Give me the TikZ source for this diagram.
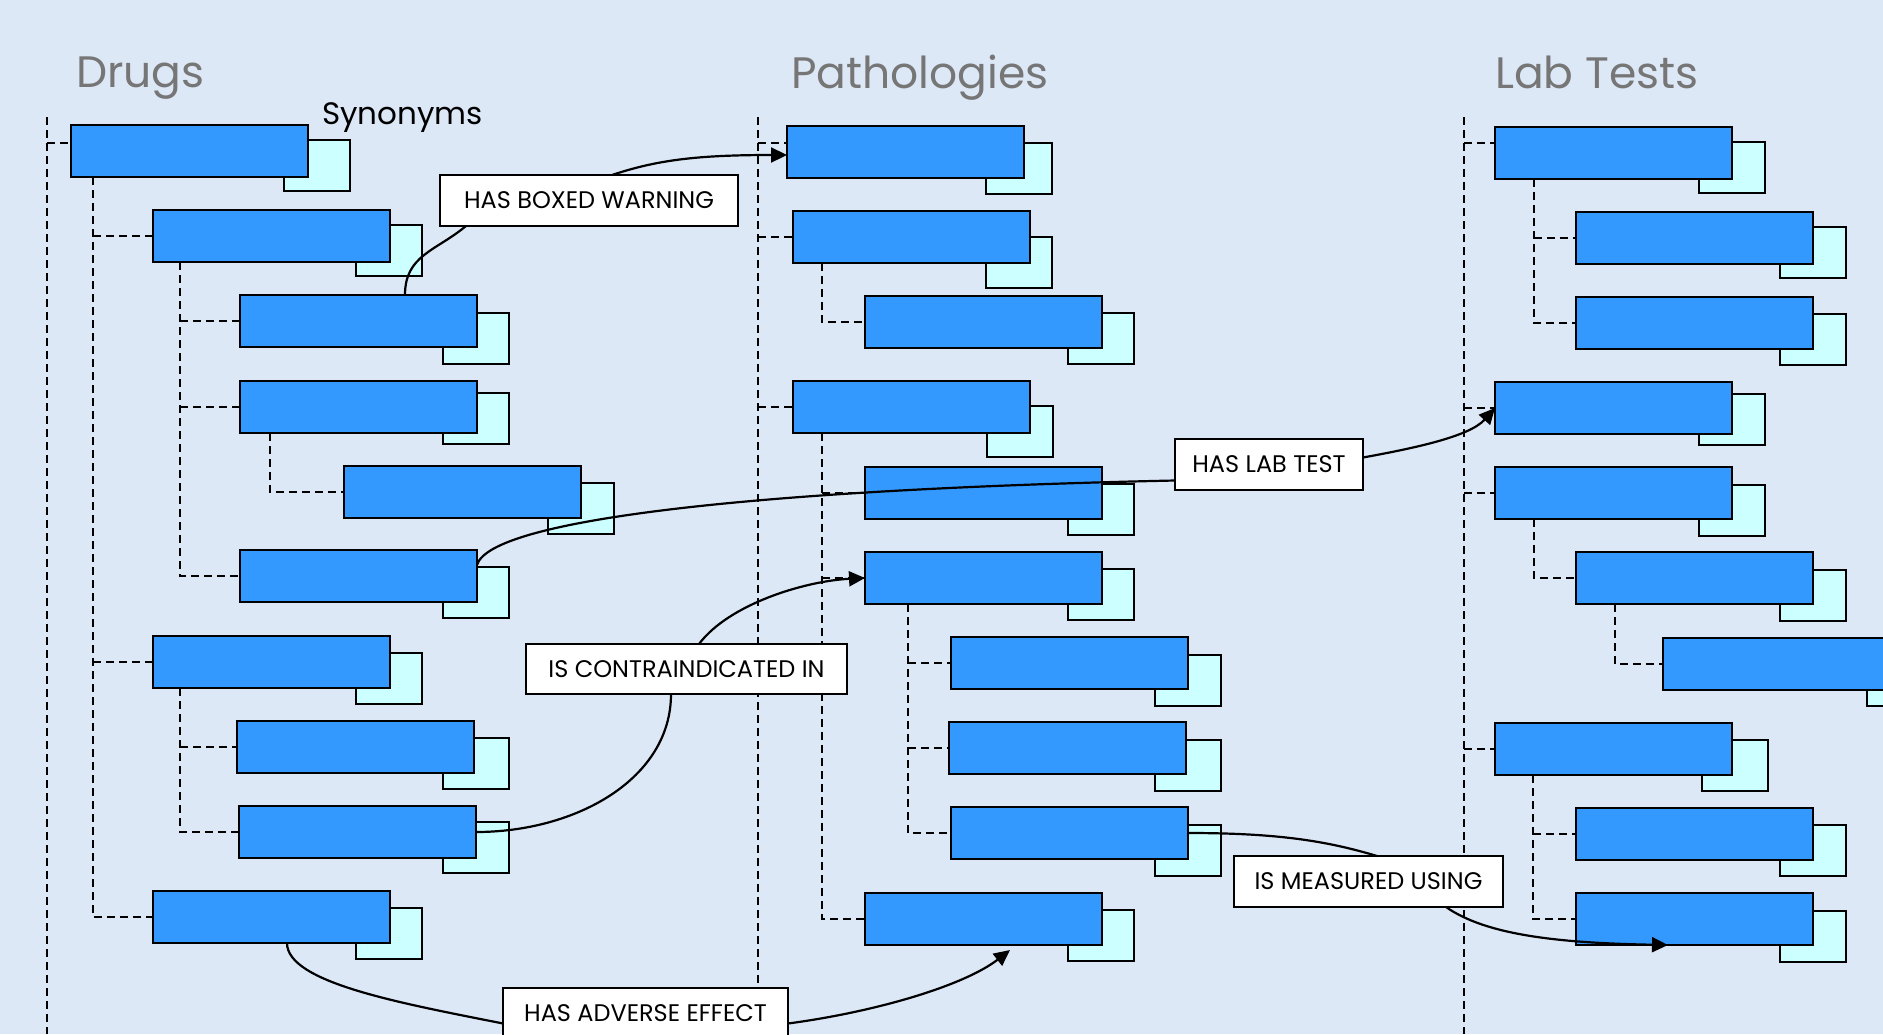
\documentclass[tikz,border=0pt]{standalone}
\usepackage{fontspec}
\setmainfont{Poppins}
\usetikzlibrary{arrows.meta}
\definecolor{bgc}{RGB}{221,232,247}
\definecolor{boxc}{RGB}{51,153,255}
\definecolor{shc}{RGB}{204,255,255}
\definecolor{ttl}{RGB}{118,118,118}
\pgfdeclarelayer{bg}
\pgfdeclarelayer{tree}
\pgfsetlayers{bg,tree,main}
\tikzset{
 mainbox/.style={draw=black, line width=2.2pt, fill=boxc, minimum width=237pt, minimum height=52pt, inner sep=0pt, outer sep=0pt, anchor=north west},
 synbox/.style={draw=black, line width=2.2pt, fill=shc, minimum width=66pt, minimum height=51pt, inner sep=0pt, outer sep=0pt, anchor=north west},
 treeline/.style={draw=black, line width=2pt, dash pattern=on 8pt off 5pt},
 rel/.style={draw=black, line width=2.2pt},
 relarrow/.style={rel, -{Triangle[length=16pt,width=15pt]}},
 lbl/.style={draw=black, line width=2.2pt, fill=white, inner sep=0pt, outer sep=0pt, anchor=north west, font=\fontsize{24}{26}\selectfont},
 coltitle/.style={text=ttl, font=\fontsize{44}{50}\selectfont, anchor=base west, inner sep=0pt},
}
\newcommand\ourbox[5]{%
 \node[synbox] (#1s) at (#4,#5) {};
 \node[mainbox] (#1) at (#2,#3) {};
}
\begin{document}
\begin{tikzpicture}[x=1pt,y=-1pt]
\useasboundingbox (0,0) rectangle (1883,1034);
\begin{pgfonlayer}{bg}
\fill[bgc] (0,0) rectangle (1883,1034);
\end{pgfonlayer}

% titles
\node[coltitle] (tdrugs) at (76,87) {Drugs};
\node[coltitle] (tpath) at (791,88) {Pathologies};
\node[coltitle] (tlab) at (1495,88) {Lab Tests};
\node[anchor=base west, inner sep=0pt, font=\fontsize{31}{36}\selectfont] (syn) at (322,124) {Synonyms};

% boxes
\ourbox{D1}{71}{125}{284}{140}
\ourbox{D2}{153}{210}{356}{225}
\ourbox{D3}{240}{295}{443}{313}
\ourbox{D4}{240}{381}{443}{393}
\ourbox{D5}{344}{466}{548}{483}
\ourbox{D6}{240}{550}{443}{567}
\ourbox{D7}{153}{636}{356}{653}
\ourbox{D8}{237}{721}{443}{738}
\ourbox{D9}{239}{806}{443}{822}
\ourbox{D10}{153}{891}{356}{908}

\ourbox{P1}{787}{126}{986}{143}
\ourbox{P2}{793}{211}{986}{237}
\ourbox{P3}{865}{296}{1068}{313}
\ourbox{P4}{793}{381}{987}{406}
\ourbox{P5}{865}{467}{1068}{484}
\ourbox{P6}{865}{552}{1068}{569}
\ourbox{P7}{951}{637}{1155}{655}
\ourbox{P8}{949}{722}{1155}{740}
\ourbox{P9}{951}{807}{1155}{825}
\ourbox{P10}{865}{893}{1068}{910}

\ourbox{L1}{1495}{127}{1699}{142}
\ourbox{L2}{1576}{212}{1780}{227}
\ourbox{L3}{1576}{297}{1780}{314}
\ourbox{L4}{1495}{382}{1699}{394}
\ourbox{L5}{1495}{467}{1699}{485}
\ourbox{L6}{1576}{552}{1780}{570}
\ourbox{L7}{1663}{638}{1867}{655}
\ourbox{L8}{1495}{723}{1702}{740}
\ourbox{L9}{1576}{808}{1780}{825}
\ourbox{L10}{1576}{893}{1780}{911}

% tree lines
\coordinate (dtop) at (47,117);   \coordinate (dbot) at (47,1034);
\coordinate (ptop) at (758,117);  \coordinate (pbot) at (758,1034);
\coordinate (ltop) at (1464,117); \coordinate (lbot) at (1464,1034);
\begin{pgfonlayer}{tree}
\draw[treeline] (dtop) -- (dbot);
\draw[treeline] (ptop) -- (pbot);
\draw[treeline] (ltop) -- (lbot);
% drugs
\draw[treeline] ([yshift=8pt]D1.west -| dtop) -- ([yshift=8pt]D1.west);
\draw[treeline] ([xshift=22pt]D1.south west) |- (D10.west);
\draw[treeline] ([xshift=22pt]D1.south west |- D2.west) -- (D2.west);
\draw[treeline] ([xshift=22pt]D1.south west |- D7.west) -- (D7.west);
\draw[treeline] ([xshift=27pt]D2.south west) |- (D6.west);
\draw[treeline] ([xshift=27pt]D2.south west |- D3.west) -- (D3.west);
\draw[treeline] ([xshift=27pt]D2.south west |- D4.west) -- (D4.west);
\draw[treeline] ([xshift=30pt]D4.south west) |- (D5.west);
\draw[treeline] ([xshift=27pt]D7.south west) |- (D9.west);
\draw[treeline] ([xshift=27pt]D7.south west |- D8.west) -- (D8.west);
% pathologies
\draw[treeline] ([yshift=9pt]P1.west -| ptop) -- ([yshift=9pt]P1.west);
\draw[treeline] (P2.west -| ptop) -- (P2.west);
\draw[treeline] (P4.west -| ptop) -- (P4.west);
\draw[treeline] ([xshift=29pt]P2.south west) |- (P3.west);
\draw[treeline] ([xshift=29pt]P4.south west) |- (P10.west);
\draw[treeline] ([xshift=29pt]P4.south west |- P5.west) -- (P5.west);
\draw[treeline] ([xshift=29pt]P4.south west |- P6.west) -- (P6.west);
\draw[treeline] ([xshift=43pt]P6.south west) |- (P9.west);
\draw[treeline] ([xshift=43pt]P6.south west |- P7.west) -- (P7.west);
\draw[treeline] ([xshift=43pt]P6.south west |- P8.west) -- (P8.west);
% lab tests
\draw[treeline] ([yshift=10pt]L1.west -| ltop) -- ([yshift=10pt]L1.west);
\draw[treeline] (L4.west -| ltop) -- (L4.west);
\draw[treeline] (L5.west -| ltop) -- (L5.west);
\draw[treeline] (L8.west -| ltop) -- (L8.west);
\draw[treeline] ([xshift=39pt]L1.south west) |- (L3.west);
\draw[treeline] ([xshift=39pt]L1.south west |- L2.west) -- (L2.west);
\draw[treeline] ([xshift=39pt]L5.south west) |- (L6.west);
\draw[treeline] ([xshift=39pt]L6.south west) |- (L7.west);
\draw[treeline] ([xshift=38pt]L8.south west) |- (L10.west);
\draw[treeline] ([xshift=38pt]L8.south west |- L9.west) -- (L9.west);
\end{pgfonlayer}

% relation labels
\node[lbl, minimum width=298pt, minimum height=51pt] (hbw) at (440,175) {HAS BOXED WARNING};
\node[lbl, minimum width=188pt, minimum height=51pt] (hlt) at (1175,439) {HAS LAB TEST};
\node[lbl, minimum width=321pt, minimum height=50pt] (ici) at (526,644) {IS CONTRAINDICATED IN};
\node[lbl, minimum width=269pt, minimum height=51pt] (imu) at (1234,856) {IS MEASURED USING};
\node[lbl, minimum width=285pt, minimum height=51pt] (hae) at (503,988) {HAS ADVERSE EFFECT};

% relations
\draw[rel] ([xshift=165pt]D3.north west) .. controls +(0,-40) and +(-30,25) .. ([xshift=26pt]hbw.south west);
\draw[relarrow] ([xshift=172pt]hbw.north west) .. controls +(45,-15) and +(-90,0) .. ([yshift=-3pt]P1.west);
\draw[rel] ([yshift=-15pt]D6.north east) .. controls +(13,-45) and +(-425,9) .. ([yshift=-16pt]hlt.west);
\draw[relarrow] ([yshift=7pt]hlt.east) .. controls +(55,-10) and +(-25,28) .. (L4.west);
\draw[rel] (D9.east) .. controls +(100,0) and +(0,85) .. ([xshift=145pt]ici.south west);
\draw[relarrow] ([xshift=173pt]ici.north west) .. controls +(30,-40) and +(-60,3) .. (P6.west);
\draw[rel] ([xshift=134pt]D10.south west) .. controls +(0,40) and +(-100,-20) .. ([yshift=-10pt]hae.west);
\draw[relarrow] ([yshift=-10pt]hae.east) .. controls +(90,-12) and +(-45,35) .. ([xshift=145pt,yshift=-5pt]P10.south west);
\draw[rel] (P9.east) .. controls +(90,0) and +(-50,-15) .. ([xshift=143pt]imu.north west);
\draw[relarrow] ([xshift=212pt]imu.south west) .. controls +(40,28) and +(-110,-2) .. ([xshift=92pt]L10.south west);
\end{tikzpicture}
\end{document}
